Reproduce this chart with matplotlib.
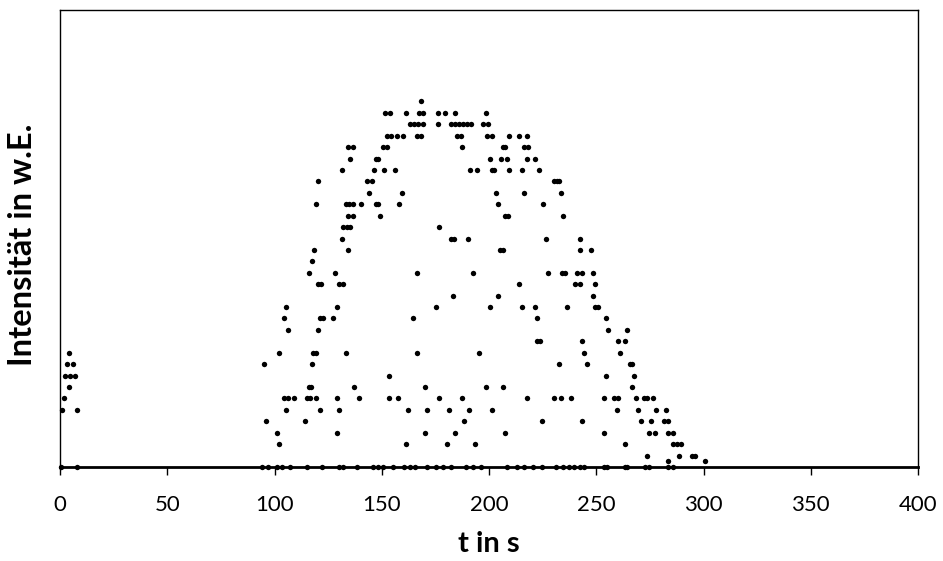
import matplotlib
matplotlib.use("Agg")
import matplotlib.pyplot as plt

plt.rcParams["font.family"] = ["Lato", "DejaVu Sans"]

# Measured signal: time in seconds and intensity (arbitrary units)
t_s = [
    168.3,
    151.5, 153.8, 161.3, 167.4, 169.4, 176.1, 179.3, 184.1, 198.5,
    163.2, 165.0, 167.0, 169.4, 176.1, 182.1, 184.1, 186.2, 188.0, 189.9, 191.5, 197.4, 199.4,
    152.3, 154.2, 157.3, 160.0, 166.6, 168.2, 185.2, 186.8, 199.2, 201.2, 209.3, 214.1, 217.6,
    134.3, 136.5, 150.4, 152.3, 187.4, 206.4, 207.6, 216.5, 218.0,
    135.2, 147.3, 148.4, 200.5, 205.4, 208.5, 217.6, 221.4,
    131.3, 146.2, 151.2, 156.3, 191.1, 194.3, 201.2, 202.5, 209.3, 215.2, 223.5,
    120.3, 143.3, 145.3, 230.3, 231.5, 232.8,
    144.2, 159.3, 203.3, 216.5, 233.4,
    119.3, 133.2, 134.6, 136.4, 140.3, 147.3, 148.4, 158.2, 204.3, 225.3,
    134.1, 136.4, 149.2, 207.5, 208.7, 234.3,
    131.8, 133.7, 135.2, 176.7,
    131.3, 182.1, 183.7, 190.4, 226.4, 242.4,
    118.3, 134.1, 205.1, 206.7, 242.4, 247.4,
    117.3,
    116.2, 128.2, 166.3, 192.4, 227.5, 234.2, 235.4, 241.2, 243.4, 248.3,
    120.3, 121.5, 130.2, 132.1, 214.1, 240.1, 242.4, 249.6,
    183.4, 204.3, 248.3,
    105.4, 129.3, 175.3, 200.5, 215.5, 221.4, 236.5, 249.6, 250.8,
    104.3, 121.2, 122.5, 127.3, 164.4, 222.5, 254.5,
    106.3, 120.3, 255.5, 264.5,
    222.2, 223.8, 243.4, 260.3, 263.4,
    4.2, 102.2, 118.1, 119.3, 133.3, 166.4, 195.3, 244.4, 261.1,
    3.1, 6.2, 95.3, 117.3, 232.5, 245.5, 265.7, 266.8,
    2.3, 4.7, 7.0, 153.4, 254.5, 267.6,
    4.2, 115.9, 117.0, 137.2, 170.3, 198.4, 206.4, 266.5,
    1.9, 104.3, 106.3, 109.1, 115.0, 116.6, 119.3, 129.3, 139.4, 153.4, 157.4, 176.7,
    187.4, 217.6, 230.5, 233.4, 238.4, 253.6, 258.4, 260.3, 268.5, 272.3, 273.8, 276.6,
    0.8, 8.1, 105.4, 121.4, 130.2, 162.4, 171.2, 181.5, 190.5, 201.4, 259.5, 269.6, 277.7, 282.5,
    96.2, 114.2, 188.3, 224.6, 243.4, 270.7, 275.5, 281.6, 283.6,
    101.3, 129.3, 170.3, 184.3, 207.5, 253.6, 274.7, 277.4, 283.6, 285.9,
    102.2, 161.3, 180.3, 193.3, 263.4, 285.9, 287.5, 289.4,
    273.5, 288.6, 294.5, 296.0,
    283.6, 300.7,
    0.3, 8.1, 94.0, 97.1, 101.3, 103.3, 107.2, 115.0, 122.3, 130.2, 132.1, 138.3, 146.1,
    148.1, 150.4, 155.4, 160.4, 163.2, 165.5, 171.2, 175.3, 178.4, 182.3, 189.3, 192.7,
    196.1, 208.5, 213.2, 216.5, 220.4, 224.6, 231.2, 234.3, 237.4, 239.6, 242.4, 244.4,
    253.6, 255.2, 263.4, 264.5, 272.7, 274.7, 283.6, 285.6,
]

intensity = [
    32,
    31, 31, 31, 31, 31, 31, 31, 31, 31,
    30, 30, 30, 30, 30, 30, 30, 30, 30, 30, 30, 30, 30,
    29, 29, 29, 29, 29, 29, 29, 29, 29, 29, 29, 29, 29,
    28, 28, 28, 28, 28, 28, 28, 28, 28,
    27, 27, 27, 27, 27, 27, 27, 27,
    26, 26, 26, 26, 26, 26, 26, 26, 26, 26, 26,
    25, 25, 25, 25, 25, 25,
    24, 24, 24, 24, 24,
    23, 23, 23, 23, 23, 23, 23, 23, 23, 23,
    22, 22, 22, 22, 22, 22,
    21, 21, 21, 21,
    20, 20, 20, 20, 20, 20,
    19, 19, 19, 19, 19, 19,
    18,
    17, 17, 17, 17, 17, 17, 17, 17, 17, 17,
    16, 16, 16, 16, 16, 16, 16, 16,
    15, 15, 15,
    14, 14, 14, 14, 14, 14, 14, 14, 14,
    13, 13, 13, 13, 13, 13, 13,
    12, 12, 12, 12,
    11, 11, 11, 11, 11,
    10, 10, 10, 10, 10, 10, 10, 10, 10,
    9, 9, 9, 9, 9, 9, 9, 9,
    8, 8, 8, 8, 8, 8,
    7, 7, 7, 7, 7, 7, 7, 7,
    6, 6, 6, 6, 6, 6, 6, 6, 6, 6, 6, 6,
    6, 6, 6, 6, 6, 6, 6, 6, 6, 6, 6, 6,
    5, 5, 5, 5, 5, 5, 5, 5, 5, 5, 5, 5, 5, 5,
    4, 4, 4, 4, 4, 4, 4, 4, 4,
    3, 3, 3, 3, 3, 3, 3, 3, 3, 3,
    2, 2, 2, 2, 2, 2, 2, 2,
    1, 1, 1, 1,
    0.5, 0.5,
    0, 0, 0, 0, 0, 0, 0, 0, 0, 0, 0, 0, 0,
    0, 0, 0, 0, 0, 0, 0, 0, 0, 0, 0, 0,
    0, 0, 0, 0, 0, 0, 0, 0, 0, 0, 0, 0,
    0, 0, 0, 0, 0, 0, 0, 0,
]

x_ticks = [0, 50, 100, 150, 200, 250, 300, 350, 400]

fig = plt.figure(figsize=(9.43, 5.61), dpi=100)
ax = fig.add_axes([60 / 943, 1 - 467 / 561, 858 / 943, 457 / 561])

ax.scatter(t_s, intensity, s=15, color="black", linewidths=0, zorder=5, clip_on=False)

ax.set_xlim(0, 400)
ax.set_ylim(0, 40)
ax.set_xticks(x_ticks)
ax.set_yticks([])
ax.tick_params(axis="x", direction="out", length=6, width=1, labelsize=16, pad=14)

for side in ["top", "right", "left"]:
    ax.spines[side].set_linewidth(1.0)
ax.spines["bottom"].set_linewidth(2.0)

ax.set_xlabel("t in s", fontsize=21, fontweight="bold", labelpad=12)
ax.set_ylabel("Intensität in w.E.", fontsize=23.5, fontweight="bold")
ax.yaxis.set_label_coords(-0.027, 0.487)

fig.savefig("out.png", dpi=100)
